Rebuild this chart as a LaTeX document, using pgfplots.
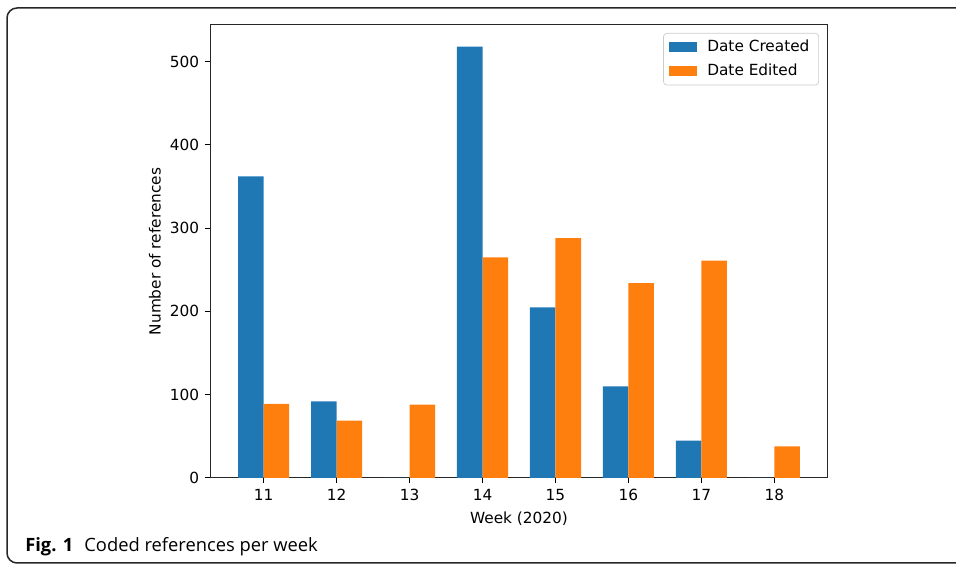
\documentclass[border=0pt]{standalone}
\usepackage{pgfplots}
\pgfplotsset{compat=1.18}
\usepackage{fontspec}
\setmainfont{DejaVu Sans}
\newfontfamily\capfont{Open Sans}
\definecolor{tabblue}{HTML}{1F77B4}
\definecolor{taborange}{HTML}{FF7F0E}
\begin{document}
\begin{tikzpicture}
\begin{scope}
\clip (0,0) rectangle (573.6pt,339pt);
\draw[line width=0.9pt, black!85, rounded corners=6pt] (4.2pt,1.2pt) rectangle (600pt,334.2pt);
\end{scope}
\node[anchor=base west, inner sep=0pt, font=\capfont\fontsize{11}{13}\selectfont] at (15pt,7.8pt) {\textbf{Fig. 1}\hspace{0.6em}Coded references per week};
\begin{axis}[
  at={(126pt,52.2pt)}, anchor=south west,
  width=370.8pt, height=271.8pt, scale only axis,
  xmin=10.265, xmax=18.735, ymin=0, ymax=543.9,
  xtick={11,12,13,14,15,16,17,18},
  ytick={0,100,200,300,400,500},
  xtick pos=bottom, ytick pos=left,
  tick align=outside, major tick length=3pt,
  every tick/.style={black, line width=0.6pt},
  axis line style={line width=0.6pt, black!85},
  font=\fontsize{9.2}{11}\selectfont,
  /pgf/number format/assume math mode=true,
  xlabel={Week (2020)}, ylabel={Number of references},
  xlabel style={at={(axis description cs:0.5,0)}, anchor=center, yshift=-24.6pt},
  ylabel style={at={(axis description cs:0,0.5)}, anchor=center, yshift=33pt},
  bar width=0.35,
  legend style={at={(1,1)}, anchor=north east, xshift=-5.4pt, yshift=-4.8pt,
    draw=black!20, rounded corners=2pt, inner xsep=3.5pt, inner ysep=2pt,
    row sep=2pt, font=\fontsize{9.2}{11}\selectfont},
  legend cell align=left,
  legend image code/.code={\fill[#1, sharp corners] (0pt,-3pt) rectangle (16.8pt,3pt); \path (20.8pt,0pt);},
]
\addplot[ybar, bar shift=-0.175, fill=tabblue, draw=none] coordinates {
(11,362) (12,92) (13,0) (14,518) (15,205) (16,110) (17,45) (18,0)};
\addlegendentry{Date Created}
\addplot[ybar, bar shift=0.175, fill=taborange, draw=none] coordinates {
(11,89) (12,69) (13,88) (14,265) (15,288) (16,234) (17,261) (18,38)};
\addlegendentry{Date Edited}
\end{axis}
\end{tikzpicture}
\end{document}
